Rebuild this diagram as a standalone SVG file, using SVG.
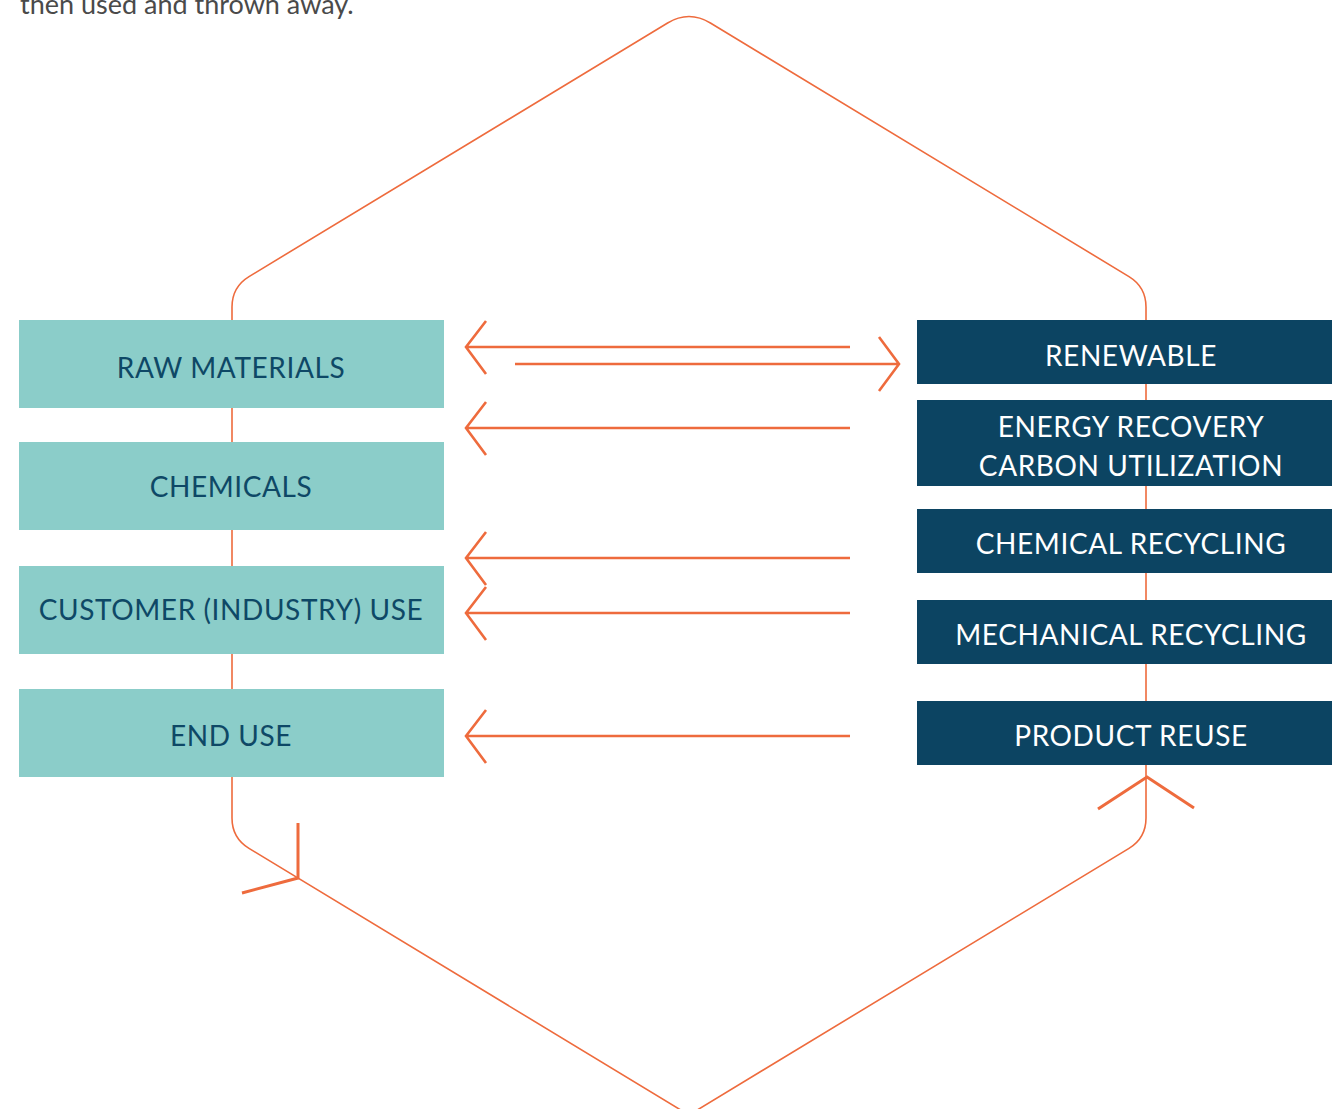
<svg xmlns="http://www.w3.org/2000/svg" width="1332" height="1109" viewBox="0 0 1332 1109">
<style>
.hex{fill:none;stroke:#EE6B3D;stroke-width:1.6}
.arr{fill:none;stroke:#EE6B3D;stroke-width:2.6;stroke-linecap:butt;stroke-linejoin:miter}
.lbox{fill:#8BCDC9}
.rbox{fill:#0C4462}
.lt{font-family:Lato,"Open Sans",sans-serif;font-size:28px;letter-spacing:0.6px;fill:#0E4866;text-anchor:middle}
.rt{font-family:Lato,"Open Sans",sans-serif;font-size:28px;letter-spacing:0.6px;fill:#ffffff;text-anchor:middle}
.intro{font-family:Lato,"Open Sans",sans-serif;font-size:27px;fill:#4a4a4a}
</style>
<rect width="1332" height="1109" fill="#ffffff"/>
<text class="intro" x="20" y="14">then used and thrown away.</text>
<g id="cycle">
<path class="hex" d="M667.6,23 Q689,10 710.4,23 L1129,276.6 Q1146,287 1146,307 L1146,818 Q1146,838 1129,848.4 L689,1115 L249,848.4 Q232,838 232,818 L232,307 Q232,287 249,276.6 Z"/>
</g>
<g id="raw-materials"><rect class="lbox" x="19" y="320" width="425" height="88"/><text class="lt" x="231" y="378">RAW MATERIALS</text></g>
<g id="chemicals"><rect class="lbox" x="19" y="442" width="425" height="88"/><text class="lt" x="231" y="497">CHEMICALS</text></g>
<g id="customer-use"><rect class="lbox" x="19" y="566" width="425" height="88"/><text class="lt" x="231" y="620">CUSTOMER (INDUSTRY) USE</text></g>
<g id="end-use"><rect class="lbox" x="19" y="689" width="425" height="88"/><text class="lt" x="231" y="746">END USE</text></g>
<g id="renewable"><rect class="rbox" x="917" y="320" width="415" height="64"/><text class="rt" x="1131" y="366">RENEWABLE</text></g>
<g id="energy-recovery"><rect class="rbox" x="917" y="400" width="415" height="86"/><text class="rt" x="1131" y="437">ENERGY RECOVERY</text><text class="rt" x="1131" y="476">CARBON UTILIZATION</text></g>
<g id="chemical-recycling"><rect class="rbox" x="917" y="509" width="415" height="64"/><text class="rt" x="1131" y="554">CHEMICAL RECYCLING</text></g>
<g id="mechanical-recycling"><rect class="rbox" x="917" y="600" width="415" height="64"/><text class="rt" x="1131" y="645">MECHANICAL RECYCLING</text></g>
<g id="product-reuse"><rect class="rbox" x="917" y="701" width="415" height="64"/><text class="rt" x="1131" y="746">PRODUCT REUSE</text></g>
<g id="connectors">
<path class="arr" d="M850,347 H466 M486,321 L466,347 L486,374"/>
<path class="arr" d="M515,364 H898 M879,337 L899,364 L879,391"/>
<path class="arr" d="M850,428 H466 M486,402 L466,428 L486,455"/>
<path class="arr" d="M850,558 H466 M486,532 L466,558 L486,585"/>
<path class="arr" d="M850,613 H466 M486,587 L466,613 L486,640"/>
<path class="arr" d="M850,736 H466 M486,710 L466,736 L486,763"/>
<path class="arr" d="M298,823 L298,878 L242,893" style="stroke-width:3"/>
<path class="arr" d="M1098,809 L1147,777 L1194,808" style="stroke-width:3"/>
</g>
</svg>
